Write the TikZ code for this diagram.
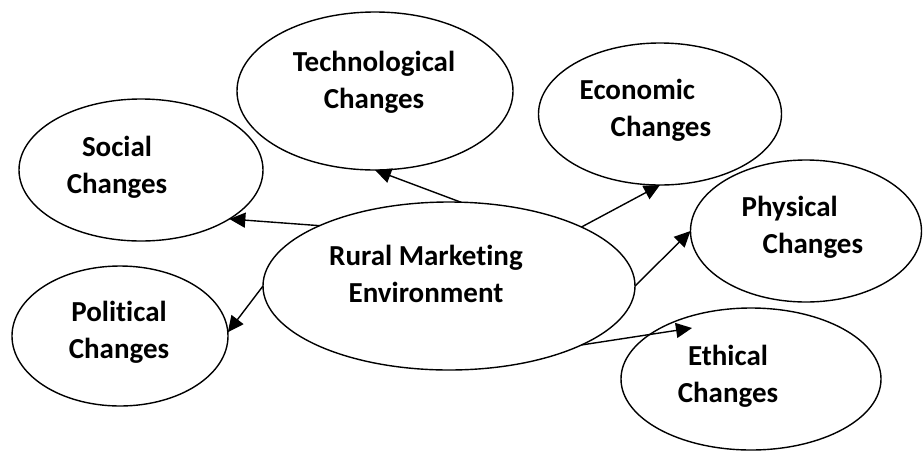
\documentclass[tikz,border=0pt]{standalone}
\usepackage{fontspec}
\setmainfont{Carlito}[Ligatures=NoCommon]
\usetikzlibrary{shapes.geometric,arrows.meta,positioning}

\tikzset{
  bubble/.style={draw, ellipse, line width=1.4pt, inner sep=0pt, outer sep=0pt},
  txt/.style={font=\fontsize{29}{37}\selectfont\bfseries, inner sep=0pt},
}

\begin{document}
\begin{tikzpicture}[x=1pt, y=-1pt, line width=1.4pt, >={Triangle[length=16pt,width=15pt]}]
  \useasboundingbox (0,0) rectangle (924,451);
  % the ellipses
  \node[bubble, minimum width=372pt, minimum height=168pt] (rural) at (449,286) {};
  \node[bubble, minimum width=276pt, minimum height=158pt] (tech) at (375,91) {};
  \node[bubble, minimum width=244pt, minimum height=142pt] (social) at (141,170) {};
  \node[bubble, minimum width=216pt, minimum height=140pt] (political) at (120,336) {};
  \node[bubble, minimum width=243pt, minimum height=142pt] (economic) at (660,114) {};
  \node[bubble, minimum width=231pt, minimum height=142pt] (physical) at (806,231) {};
  \node[bubble, minimum width=260pt, minimum height=142pt] (ethical) at (751,379) {};
  % their texts
  \node[txt, align=center] (ruraltxt) at (426,273.5) {Rural Marketing\\Environment};
  \node[txt, align=center] (techtxt) at (374,82) {Technological\\Changes};
  \node[txt, align=center] (socialtxt) at (117,167) {Social\\Changes};
  \node[txt, align=center] (politicaltxt) at (119,332.5) {Political\\Changes};
  \node[txt, align=left, anchor=west] (economictxt) at (579,110.5) {Economic\\\hspace*{31pt}Changes};
  \node[txt, align=left, anchor=west] (physicaltxt) at (741,227.5) {Physical\\\hspace*{21pt}Changes};
  \node[txt, align=center] (ethicaltxt) at (728,376.5) {Ethical\\Changes};
  \coordinate (ethtip) at (692,328);
  \path[->]
    (rural.82.5) edge (tech.270)
    (rural.155.8) edge (social.-29.6)
    (rural.180) edge (political.2)
    (rural.24.1) edge (economic.270)
    (rural.0) edge (physical.180)
    (rural.-24.8) edge (ethtip);
\end{tikzpicture}
\end{document}
